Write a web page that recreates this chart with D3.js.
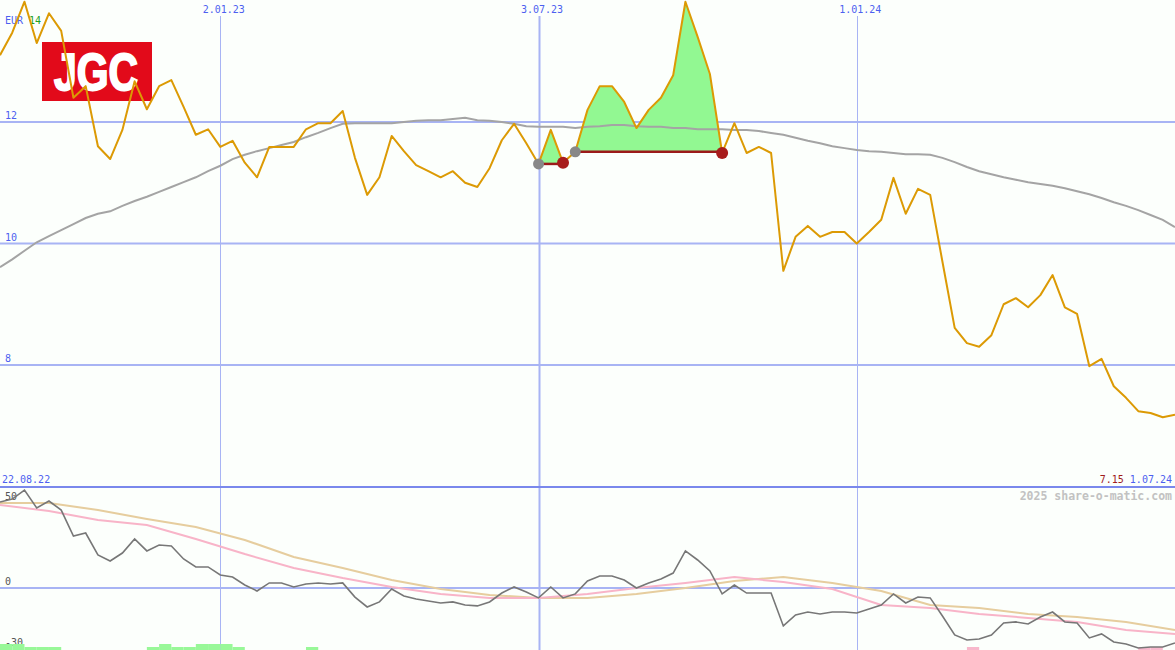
<!DOCTYPE html>
<html><head><meta charset="utf-8">
<script src="https://cdn.jsdelivr.net/npm/d3@7/dist/d3.min.js"></script>
<style>html,body{margin:0;padding:0;background:#fcfffc;}svg{display:block;}</style>
</head><body><svg id="c" width="1175" height="650"></svg>
<script>
// ---------- data ----------
const startDate = new Date(Date.UTC(2022, 7, 29));
const endDate = new Date(Date.UTC(2024, 6, 1));
const price = [
13.10,13.47,13.98,13.30,13.79,13.50,12.40,12.59,11.60,11.39,
11.87,12.67,12.21,12.59,12.69,12.25,11.79,11.88,11.59,11.69,
11.33,11.09,11.59,11.59,11.59,11.88,11.98,11.98,12.18,11.41,
10.80,11.09,11.77,11.52,11.29,11.19,11.09,11.19,11.00,10.93,
11.24,11.70,11.97,11.65,11.31,11.87,11.33,11.51,12.20,12.59,
12.59,12.33,11.90,12.20,12.40,12.77,13.98,13.40,12.79,11.49,
11.98,11.49,11.59,11.49,9.55,10.11,10.29,10.11,10.19,10.19,
10.00,10.19,10.39,11.08,10.49,10.90,10.80,9.70,8.61,8.36,
8.30,8.49,9.00,9.10,8.95,9.15,9.48,8.95,8.84,7.98,
8.10,7.65,7.46,7.24,7.21,7.14,7.18];
const movingAvg = [
9.61,9.74,9.88,10.02,10.12,10.22,10.32,10.42,10.49,10.53,
10.62,10.70,10.77,10.85,10.93,11.01,11.09,11.19,11.28,11.39,
11.46,11.52,11.57,11.62,11.67,11.75,11.82,11.90,11.97,11.98,
11.98,11.98,11.98,12.00,12.02,12.03,12.03,12.05,12.07,12.03,
12.02,12.00,11.97,11.93,11.92,11.92,11.92,11.90,11.92,11.93,
11.95,11.95,11.93,11.92,11.92,11.90,11.90,11.88,11.88,11.88,
11.87,11.87,11.85,11.82,11.79,11.74,11.69,11.65,11.60,11.57,
11.54,11.52,11.51,11.49,11.47,11.47,11.46,11.41,11.34,11.26,
11.19,11.14,11.09,11.05,11.01,10.98,10.95,10.91,10.86,10.81,
10.75,10.68,10.62,10.55,10.47,10.39,10.27];
const indicator = [
49.4,51.1,56.3,46.0,50.0,44.8,29.9,31.6,19.0,15.5,
20.1,28.2,21.3,24.7,24.1,16.7,12.1,12.1,7.5,6.3,
1.7,-1.7,2.9,2.9,0.6,2.3,2.9,2.3,2.9,-5.2,
-10.9,-8.0,-0.6,-4.6,-6.3,-7.5,-8.6,-8.0,-9.8,-10.3,
-8.0,-2.9,0.6,-2.3,-5.7,0.6,-5.7,-3.4,4.0,6.9,
6.9,4.6,0.0,2.9,5.2,8.6,21.3,16.1,9.8,-3.4,
1.7,-2.9,-2.9,-2.9,-21.8,-15.5,-13.8,-14.9,-13.8,-13.8,
-14.4,-12.1,-9.8,-3.4,-8.6,-5.2,-5.7,-16.1,-27.0,-29.9,
-29.3,-27.0,-20.1,-19.5,-20.7,-16.7,-13.8,-19.5,-20.1,-28.7,
-26.4,-31.0,-32.2,-34.5,-33.9,-33.9,-31.6];
const slowIdx = [0,4,8,12,16,20,24,28,32,36,40,44,48,52,56,60,64,68,72,76,80,84,88,92,96];
const pinkAvg = [47.7,44.3,39.1,36.2,28.2,19.5,11.5,5.7,0.6,-3.4,-5.7,-5.7,-3.4,0.0,2.9,6.3,3.4,-0.6,-9.8,-11.5,-14.9,-17.2,-19.5,-24.1,-26.4];
const tanAvg = [48.9,48.9,44.8,39.7,35.1,27.6,17.8,11.5,4.6,-0.6,-4.0,-5.7,-5.7,-3.4,0.0,4.0,6.3,2.9,-1.7,-9.8,-11.5,-14.9,-16.7,-19.5,-24.1];
const barIdx = [0,1,2,3,4,12,13,14,15,16,17,18,19,25,79,93,94];
const barVal = [2,2,1,1,1,1,2,1,1,2,2,2,1,1,-1,-1,-1];
const signalStart = [44,47];
const signalEnd = [46,59];
const priceTicks = [12,10,8];
const lowerTicks = [50,0,-30];
const tickDates = [new Date(Date.UTC(2023,0,2)), new Date(Date.UTC(2023,6,3)), new Date(Date.UTC(2024,0,1))];
const tickLabels = ["2.01.23","3.07.23","1.01.24"];
const strongTick = [false,true,false];

// ---------- setup ----------
const W = 1175, H = 650;
const svg = d3.select("#c");
const dates = d3.range(price.length).map(i => d3.utcDay.offset(startDate, 7*i));
const x = d3.scaleUtc().domain([startDate, endDate]).range([0, W]);
const y = d3.scaleLinear().domain([8, 12]).range([365, 122]);
const yl = d3.scaleLinear().domain([-30, 50]).range([588 + 30*1.74, 588 - 50*1.74]);
const barH = d3.scaleLinear().domain([0, 2]).range([650, 644]);
const grid = "#a8b4f4", sep = "#7a88ec", blue = "#4d5ff0";
const mono = "'DejaVu Sans Mono', monospace";

svg.append("rect").attr("width", W).attr("height", H).attr("fill", "#fcfffc");

// horizontal grid (main)
svg.selectAll(".hg").data(priceTicks).join("line")
  .attr("x1", 0).attr("x2", W).attr("y1", d => y(d)).attr("y2", d => y(d))
  .attr("stroke", grid).attr("stroke-width", 2);
svg.selectAll(".hgl").data(priceTicks).join("text")
  .attr("x", 5).attr("y", d => y(d) - 3).text(d => d)
  .attr("font-family", mono).attr("font-size", 10).attr("fill", blue);

// vertical grid
svg.selectAll(".vg").data(tickDates).join("line")
  .attr("x1", d => Math.round(x(d)) + 0.5).attr("x2", d => Math.round(x(d)) + 0.5)
  .attr("y1", 16).attr("y2", H)
  .attr("stroke", grid).attr("stroke-width", (d, i) => strongTick[i] ? 2 : 1);
svg.selectAll(".vgl").data(tickDates).join("text")
  .attr("x", d => x(d) + 3.5).attr("y", 13).attr("text-anchor", "middle")
  .text((d, i) => tickLabels[i])
  .attr("font-family", mono).attr("font-size", 10).attr("fill", blue);

// EUR 14
const eur = svg.append("text").attr("x", 5).attr("y", 24).attr("font-family", mono).attr("font-size", 10);
eur.append("tspan").attr("fill", blue).text("EUR ");
eur.append("tspan").attr("fill", "#22a022").text("14");

// logo
svg.append("rect").attr("x", 42).attr("y", 42).attr("width", 110).attr("height", 59).attr("fill", "#e20a1a");
svg.append("text").attr("x", 54).attr("y", 90).text("JGC")
  .attr("font-family", "'Liberation Sans', Arial, sans-serif").attr("font-weight", "bold")
  .attr("font-size", 51).attr("fill", "#ffffff").attr("stroke", "#ffffff").attr("stroke-width", 2)
  .attr("textLength", 84).attr("lengthAdjust", "spacingAndGlyphs");

// separator + lower panel
svg.append("line").attr("x1", 0).attr("x2", W).attr("y1", 487).attr("y2", 487).attr("stroke", sep).attr("stroke-width", 2);
svg.append("line").attr("x1", 0).attr("x2", W).attr("y1", yl(0)).attr("y2", yl(0)).attr("stroke", grid).attr("stroke-width", 2);
svg.selectAll(".ll").data(lowerTicks).join("text")
  .attr("x", 5).attr("y", d => d === 50 ? yl(d) - 1 : d === 0 ? yl(d) - 3 : yl(d) + 6)
  .text(d => d).attr("font-family", mono).attr("font-size", 10).attr("fill", "#555");

svg.append("text").attr("x", 2).attr("y", 483).text("22.08.22").attr("font-family", mono).attr("font-size", 10).attr("fill", blue);
const rt = svg.append("text").attr("x", 1172).attr("y", 483).attr("text-anchor", "end").attr("font-family", mono).attr("font-size", 10);
rt.append("tspan").attr("fill", "#a01c1c").text(d3.format(".2f")(7.15) + " ");
rt.append("tspan").attr("fill", blue).text("1.07.24");
svg.append("text").attr("x", 1172).attr("y", 500).attr("text-anchor", "end").text("2025 share-o-matic.com")
  .attr("font-family", mono).attr("font-size", 11.5).attr("font-weight", "bold").attr("fill", "#c2c2c2");

// bars in lower panel
svg.selectAll(".bar").data(barIdx).join("rect")
  .attr("x", d => x(dates[d])).attr("width", d => x(d3.utcDay.offset(dates[d], 7)) - x(dates[d]))
  .attr("y", (d, i) => barH(Math.abs(barVal[i]))).attr("height", (d, i) => 650 - barH(Math.abs(barVal[i])))
  .attr("fill", (d, i) => barVal[i] > 0 ? "#98f898" : "#f8b8cc");

const ll = d3.line().x(d => x(dates[d[0]])).y(d => yl(d[1]));
svg.append("path").attr("d", ll(slowIdx.map((d, i) => [d, tanAvg[i]]))).attr("fill", "none").attr("stroke", "#e6cd9e").attr("stroke-width", 2);
svg.append("path").attr("d", ll(slowIdx.map((d, i) => [d, pinkAvg[i]]))).attr("fill", "none").attr("stroke", "#f8b4c8").attr("stroke-width", 2);
svg.append("path").attr("d", ll(indicator.map((v, i) => [i, v]))).attr("fill", "none").attr("stroke", "#777").attr("stroke-width", 1.6);

// green signal areas
signalStart.forEach((s, k) => {
  const e = signalEnd[k];
  const lvl = price[s];
  const idx = d3.range(s, e + 1);
  const area = d3.area().x(i => x(dates[i])).y0(y(lvl)).y1(i => y(Math.max(price[i], lvl)));
  svg.append("path").attr("d", area(idx)).attr("fill", "#92f892");
});

// moving average + price
const pl = d3.line().x((d, i) => x(dates[i])).y(d => y(d));
svg.append("path").attr("d", pl(movingAvg)).attr("fill", "none").attr("stroke", "#a4a4a4").attr("stroke-width", 2);
svg.append("path").attr("d", pl(price)).attr("fill", "none").attr("stroke", "#dc9a04").attr("stroke-width", 2).attr("stroke-linejoin", "round");

// signal level lines and dots
signalStart.forEach((s, k) => {
  const e = signalEnd[k];
  const lvl = price[s];
  svg.append("line").attr("x1", x(dates[s])).attr("x2", x(dates[e])).attr("y1", y(lvl)).attr("y2", y(lvl))
    .attr("stroke", "#9c1a1a").attr("stroke-width", 2.5);
  svg.append("circle").attr("cx", x(dates[s])).attr("cy", y(price[s])).attr("r", 5.5).attr("fill", "#888");
  svg.append("circle").attr("cx", x(dates[e])).attr("cy", y(price[e])).attr("r", 6).attr("fill", "#a81c1c");
});
</script></body></html>
